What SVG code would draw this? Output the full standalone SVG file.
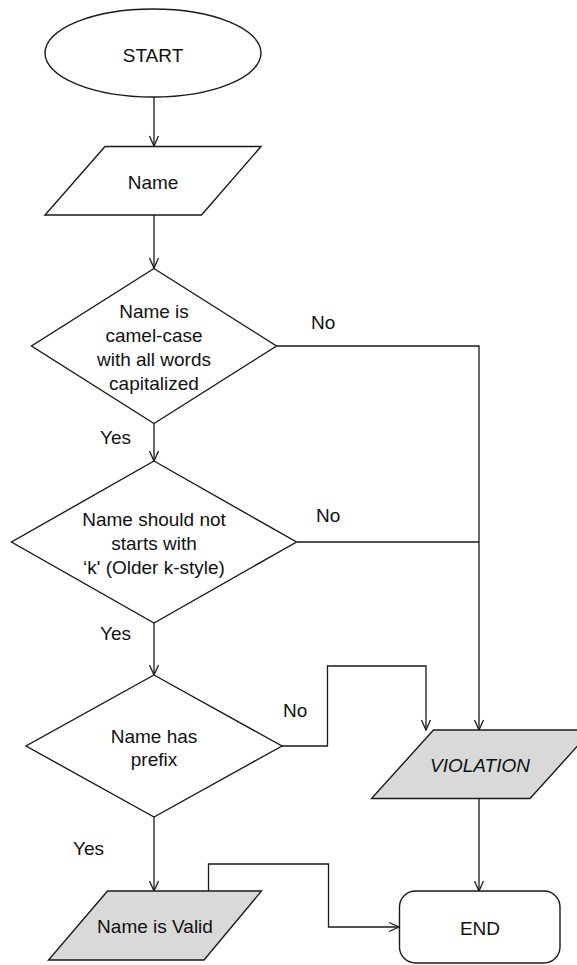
<svg xmlns="http://www.w3.org/2000/svg" width="577" height="965" viewBox="0 0 577 965">
  <style>
    .shape { fill: #ffffff; stroke: #1a1a1a; stroke-width: 1.4; }
    .out { fill: #d9d9d9; stroke: #1a1a1a; stroke-width: 1.4; }
    .edge { fill: none; stroke: #1a1a1a; stroke-width: 1.3; }
    .arrow { marker-end: url(#open); }
    text { font-family: "Liberation Sans", Arial, Helvetica, sans-serif; font-size: 19px; fill: #111111; }
    .c { text-anchor: middle; }
    .it { font-style: italic; }
  </style>
  <defs>
    <marker id="open" viewBox="0 0 12 12" refX="11" refY="6" markerWidth="12" markerHeight="12" markerUnits="userSpaceOnUse" orient="auto">
      <path d="M1,1.5 L11,6 L1,10.5" fill="none" stroke="#1a1a1a" stroke-width="1.3"/>
    </marker>
  </defs>

  <rect width="577" height="965" fill="#ffffff"/>

  <!-- connectors -->
  <g id="connectors">
    <path class="edge arrow" d="M154,97 V146"/>
    <path class="edge arrow" d="M154,215 V268"/>
    <path class="edge arrow" d="M154,423 V461"/>
    <path class="edge arrow" d="M154,623 V675"/>
    <path class="edge arrow" d="M154,817 V891"/>
    <path class="edge arrow" d="M277,346 H479 V730"/>
    <path class="edge" d="M297,542 H479"/>
    <path class="edge arrow" d="M282,746 H327.5 V666 H426 V730"/>
    <path class="edge arrow" d="M479,798 V891"/>
    <path class="edge arrow" d="M208.5,891 V864 H328.5 V927 H399"/>
    <text x="311" y="329">No</text>
    <text x="316" y="521.5">No</text>
    <text x="283" y="716.5">No</text>
    <text x="100" y="444">Yes</text>
    <text x="100" y="640">Yes</text>
    <text x="73" y="855">Yes</text>
  </g>

  <g id="start">
    <ellipse class="shape" cx="153" cy="53" rx="108" ry="44"/>
    <text class="c" x="153" y="61.5">START</text>
  </g>

  <g id="name-input">
    <polygon class="shape" points="105,146.5 261,146.5 201.5,215 45,215"/>
    <text class="c" x="153" y="188.5">Name</text>
  </g>

  <g id="check-camel">
    <polygon class="shape" points="154,268.5 276.5,346 154,423.5 31.5,346"/>
    <text class="c" x="154" y="318">Name is</text>
    <text class="c" x="154" y="342">camel-case</text>
    <text class="c" x="154" y="366">with all words</text>
    <text class="c" x="154" y="390">capitalized</text>
  </g>

  <g id="check-k-style">
    <polygon class="shape" points="154,461 296.5,542 154,623 11.5,542"/>
    <text class="c" x="154" y="526">Name should not</text>
    <text class="c" x="154" y="550">starts with</text>
    <text class="c" x="154" y="574">‘k' (Older k-style)</text>
  </g>

  <g id="check-prefix">
    <polygon class="shape" points="154,675 282,746 154,817 26,746"/>
    <text class="c" x="154" y="742.5">Name has</text>
    <text class="c" x="154" y="766">prefix</text>
  </g>

  <g id="violation">
    <polygon class="out" points="433.5,730 592,730 530,798.5 371.5,798.5"/>
    <text class="c it" x="480" y="771.5">VIOLATION</text>
  </g>

  <g id="valid">
    <polygon class="out" points="107.5,891 261.5,891 204,960 48.5,960"/>
    <text class="c" x="155" y="933">Name is Valid</text>
  </g>

  <g id="end">
    <rect class="shape" x="399.5" y="891" width="160.5" height="72" rx="16" ry="16"/>
    <text class="c" x="480" y="934.5">END</text>
  </g>
</svg>
